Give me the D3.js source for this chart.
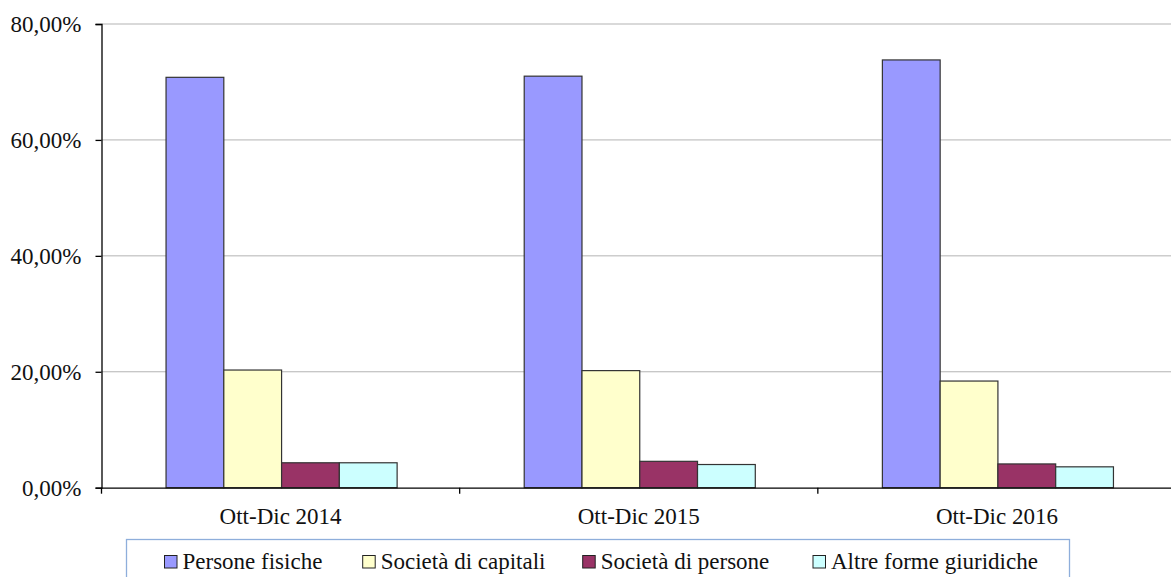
<!DOCTYPE html>
<html>
<head>
<meta charset="utf-8">
<script src="https://cdn.jsdelivr.net/npm/d3@7"></script>
<style>
  html, body { margin: 0; padding: 0; background: #fff; }
  svg { display: block; }
  text { font-family: "Liberation Serif", "Times New Roman", serif; fill: #111; }
</style>
</head>
<body>
<svg id="chart" width="1171" height="577"></svg>
<script>
const categories = ["Ott-Dic 2014", "Ott-Dic 2015", "Ott-Dic 2016"];
const seriesNames = ["Persone fisiche", "Società di capitali", "Società di persone", "Altre forme giuridiche"];
const personeFisiche   = [70.8, 71.0, 73.8];
const societaCapitali  = [20.3, 20.2, 18.4];
const societaPersone   = [4.3, 4.55, 4.1];
const altreForme       = [4.3, 4.0, 3.6];
const yTicks = [0, 20, 40, 60, 80];
const seriesColors = ["#9999FF", "#FFFFCC", "#993366", "#CCFFFF"];

const seriesValues = [personeFisiche, societaCapitali, societaPersone, altreForme];
const data = categories.map((c, i) => ({
  cat: c,
  vals: seriesNames.map((s, j) => ({ s, v: seriesValues[j][i] }))
}));

const svg = d3.select("#chart");
const mLeft = 101.5, mRight = 1176, mTop = 24, mBottom = 487.7;
const FS = 23;

const x0 = d3.scaleBand().domain(categories).range([mLeft, mRight]).padding(0);
const x1 = d3.scaleBand().domain(seriesNames).range([0, x0.bandwidth()]).paddingInner(0).paddingOuter(1.1);
const y = d3.scaleLinear().domain([0, 80]).range([mBottom, mTop]);
const color = d3.scaleOrdinal().domain(seriesNames).range(seriesColors);
const fmt = v => d3.format(".2f")(v).replace(".", ",") + "%";

// gridlines
svg.append("g").selectAll("line").data(yTicks.filter(t => t > 0)).join("line")
  .attr("x1", mLeft).attr("x2", 1171)
  .attr("y1", d => y(d)).attr("y2", d => y(d))
  .attr("stroke", "#b3b3b3").attr("stroke-width", 1);

// bars
const groups = svg.append("g").selectAll("g").data(data).join("g")
  .attr("transform", d => `translate(${x0(d.cat) + 1},0)`);
groups.selectAll("rect").data(d => d.vals).join("rect")
  .attr("x", d => x1(d.s))
  .attr("width", x1.bandwidth())
  .attr("y", d => y(d.v))
  .attr("height", d => y(0) - y(d.v))
  .attr("fill", d => color(d.s))
  .attr("stroke", "#333")
  .attr("stroke-width", 1.2);

// y axis
const yAxis = d3.axisLeft(y).tickValues(yTicks).tickSize(6).tickPadding(14).tickFormat(fmt);
const yg = svg.append("g").attr("transform", `translate(${mLeft},0)`).call(yAxis);
yg.select(".domain").attr("stroke", "#000").attr("stroke-width", 1.3);
yg.selectAll(".tick line").attr("stroke", "#000").attr("stroke-width", 1.3);
yg.selectAll(".tick text").attr("font-size", FS).attr("font-family", "Liberation Serif, serif").attr("fill", "#222");

// x axis
const xAxis = d3.axisBottom(x0).tickSize(0).tickPadding(20);
const xg = svg.append("g").attr("transform", `translate(0,${mBottom})`).call(xAxis);
xg.select(".domain").attr("stroke", "#000").attr("stroke-width", 1.3);
xg.selectAll(".tick text").attr("font-size", FS).attr("font-family", "Liberation Serif, serif").attr("fill", "#222");
// category separator ticks
xg.append("g").selectAll("line").data(categories).join("line")
  .attr("x1", d => x0(d)).attr("x2", d => x0(d))
  .attr("y1", 0).attr("y2", 6)
  .attr("stroke", "#000").attr("stroke-width", 1.3);

// legend
const legend = svg.append("g");
legend.append("rect")
  .attr("x", 126.5).attr("y", 539.5).attr("width", 943).attr("height", 60)
  .attr("fill", "#fff").attr("stroke", "#8eaedb").attr("stroke-width", 1.3);
const legendX = [164.5, 362.7, 582.7, 813];
const items = legend.selectAll("g.item").data(seriesNames).join("g")
  .attr("class", "item")
  .attr("transform", (d, i) => `translate(${legendX[i]},0)`);
items.append("rect")
  .attr("x", 0).attr("y", 555.5).attr("width", 12.5).attr("height", 12.5)
  .attr("fill", d => color(d)).attr("stroke", "#222").attr("stroke-width", 1);
items.append("text")
  .attr("x", 18).attr("y", 568.5)
  .attr("font-size", FS)
  .text(d => d);
</script>
</body>
</html>
